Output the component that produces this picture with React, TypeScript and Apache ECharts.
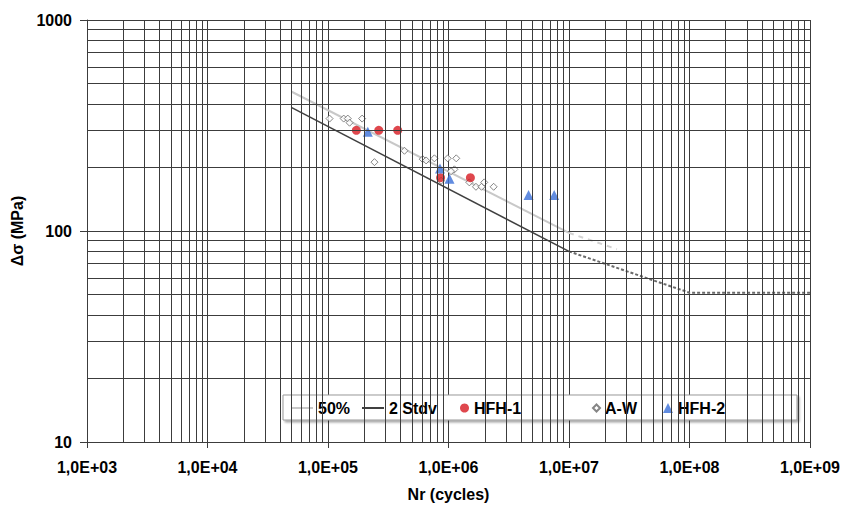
import React, { useEffect, useRef } from "react";
import * as echarts from "echarts";

// Axis ticks
const xMajorTicks = [1e3, 1e4, 1e5, 1e6, 1e7, 1e8, 1e9];
const xTickLabels = ["1,0E+03", "1,0E+04", "1,0E+05", "1,0E+06", "1,0E+07", "1,0E+08", "1,0E+09"];
const yMajorTicks = [10, 100, 1000];
const yTickLabels = ["10", "100", "1000"];
const minorMultipliers = [2, 3, 4, 5, 6, 7, 8, 9];

// Design curves
const median50 = [[5e4, 457], [1e7, 98]];
const median50Ext = [[1e7, 98], [2.5e7, 82]];
const stdv2 = [[5e4, 384], [1e7, 80]];
const stdv2Ext = [[1e7, 80], [1e8, 51], [1e9, 51]];

// Test data
const hfh1 = [[1.72e5, 300], [2.64e5, 300], [3.79e5, 300], [8.6e5, 179], [1.52e6, 179]];
const hfh2 = [[2.14e5, 295], [8.5e5, 198], [1.02e6, 177], [4.62e6, 148], [7.54e6, 148]];
const aw = [
  [1.03e5, 341], [1.35e5, 341], [1.46e5, 341], [1.51e5, 326], [1.92e5, 341],
  [2.43e5, 212], [4.31e5, 240], [6.11e5, 219], [6.52e5, 216], [7.64e5, 221],
  [9.85e5, 221], [1.16e6, 221], [1.12e6, 196], [1.05e6, 192], [1.49e6, 170],
  [1.69e6, 162], [1.88e6, 162], [1.98e6, 170], [2.37e6, 162], [8.68e5, 173],
];

const FONT = "Arial, 'Liberation Sans', sans-serif";
const GRID_COLOR = "#3c3c3c";

function minorValues(majors: number[]) {
  const out: number[] = [];
  for (let i = 0; i < majors.length - 1; i++) {
    for (const m of minorMultipliers) out.push(majors[i] * m);
  }
  return out;
}

export default function App() {
  const ref = useRef<HTMLDivElement>(null);
  useEffect(() => {
    if (!ref.current) return;
    const chart = echarts.init(ref.current, null, { renderer: "svg" });
    const legendText = { fontSize: 16, fontWeight: "bold", color: "#000", fontFamily: FONT, lineHeight: 16 };
    const legendCommon = { padding: 0, itemGap: 0, top: 400, selectedMode: false, textStyle: legendText, orient: "horizontal" };
    const gridMarks = [
      ...minorValues(xMajorTicks).map((v) => ({ xAxis: v })),
      ...minorValues(yMajorTicks).map((v) => ({ yAxis: v })),
    ];
    const option: any = {
      animation: false,
      backgroundColor: "#fff",
      grid: { left: 87, right: 32, top: 20, bottom: 63 },
      xAxis: {
        type: "log",
        logBase: 10,
        min: xMajorTicks[0],
        max: xMajorTicks[xMajorTicks.length - 1],
        name: "Nr (cycles)",
        nameLocation: "middle",
        nameGap: 44,
        nameTextStyle: { fontSize: 16, fontWeight: "bold", color: "#000", fontFamily: FONT },
        axisLine: { show: true, lineStyle: { color: GRID_COLOR, width: 1 } },
        axisTick: { show: true, length: 6, lineStyle: { color: GRID_COLOR } },
        axisLabel: {
          margin: 17,
          fontSize: 16,
          fontWeight: "bold",
          color: "#000",
          fontFamily: FONT,
          showMinLabel: true,
          showMaxLabel: true,
          formatter: (v: number) => {
            const i = xMajorTicks.findIndex((t) => Math.abs(Math.log10(t) - Math.log10(v)) < 1e-6);
            return i >= 0 ? xTickLabels[i] : "";
          },
        },
        splitLine: { show: true, lineStyle: { color: GRID_COLOR, width: 1 } },
      },
      yAxis: {
        type: "log",
        logBase: 10,
        min: yMajorTicks[0],
        max: yMajorTicks[yMajorTicks.length - 1],
        name: "Δσ (MPa)",
        nameLocation: "middle",
        nameGap: 56,
        nameRotate: 90,
        nameTextStyle: { fontSize: 16, fontWeight: "bold", color: "#000", fontFamily: FONT },
        axisLine: { show: true, lineStyle: { color: GRID_COLOR, width: 1 } },
        axisTick: { show: true, length: 7, lineStyle: { color: GRID_COLOR } },
        axisLabel: {
          margin: 15,
          fontSize: 16,
          fontWeight: "bold",
          color: "#000",
          fontFamily: FONT,
          formatter: (v: number) => {
            const i = yMajorTicks.findIndex((t) => Math.abs(Math.log10(t) - Math.log10(v)) < 1e-6);
            return i >= 0 ? yTickLabels[i] : "";
          },
        },
        splitLine: { show: true, lineStyle: { color: GRID_COLOR, width: 1 } },
      },
      legend: [
        { ...legendCommon, data: [{ name: "50%", icon: "rect" }], left: 291, itemWidth: 22, itemHeight: 2 },
        { ...legendCommon, data: [{ name: "2 Stdv", icon: "rect" }], left: 362, itemWidth: 22, itemHeight: 2 },
        { ...legendCommon, data: ["HFH-1"], left: 460, itemWidth: 9, itemHeight: 9 },
        { ...legendCommon, data: ["A-W"], left: 592, itemWidth: 7, itemHeight: 7 },
        { ...legendCommon, data: ["HFH-2"], left: 663, itemWidth: 10, itemHeight: 10 },
      ],
      graphic: [
        {
          type: "rect",
          z: 3,
          shape: { x: 283, y: 395, width: 514, height: 25 },
          style: {
            fill: "#fff",
            stroke: "#999",
            lineWidth: 1,
            shadowBlur: 2,
            shadowOffsetX: 2,
            shadowOffsetY: 2,
            shadowColor: "rgba(0,0,0,0.35)",
          },
        },
      ],
      series: [
        {
          name: "gridlines",
          type: "line",
          z: 1,
          data: [[xMajorTicks[0], yMajorTicks[0]]],
          symbol: "none",
          silent: true,
          lineStyle: { width: 0 },
          markLine: {
            silent: true,
            symbol: "none",
            label: { show: false },
            lineStyle: { color: GRID_COLOR, width: 1, type: "solid" },
            emphasis: { disabled: true },
            data: gridMarks,
          },
        },
        {
          name: "50%",
          type: "line",
          z: 2,
          data: median50,
          symbol: "none",
          color: "#c8c8c8",
          lineStyle: { color: "#c8c8c8", width: 2 },
        },
        {
          name: "50% ext",
          type: "line",
          z: 2,
          data: median50Ext,
          symbol: "none",
          color: "#c8c8c8",
          lineStyle: { color: "#d2d2d2", width: 2, type: [5, 5] },
        },
        {
          name: "2 Stdv",
          type: "line",
          z: 2,
          data: stdv2,
          symbol: "none",
          color: "#404040",
          lineStyle: { color: "#404040", width: 1.5 },
        },
        {
          name: "2 Stdv ext",
          type: "line",
          z: 2,
          data: stdv2Ext,
          symbol: "none",
          color: "#666",
          lineStyle: { color: "#6a6a6a", width: 2, type: [3, 2] },
        },
        {
          name: "A-W",
          type: "scatter",
          z: 3,
          data: aw,
          symbol: "diamond",
          symbolSize: 7,
          itemStyle: { color: "#fff", borderColor: "#666", borderWidth: 1 },
        },
        {
          name: "HFH-1",
          type: "scatter",
          z: 3,
          data: hfh1,
          symbol: "circle",
          symbolSize: 9,
          itemStyle: { color: "#d71920" },
        },
        {
          name: "HFH-2",
          type: "scatter",
          z: 3,
          data: hfh2,
          symbol: "triangle",
          symbolSize: 10,
          itemStyle: { color: "#3a6fd8" },
        },
      ],
    };
    chart.setOption(option);
    return () => chart.dispose();
  }, []);
  return <div ref={ref} style={{ position: "fixed", left: 0, top: 0, width: 843, height: 507 }} />;
}
